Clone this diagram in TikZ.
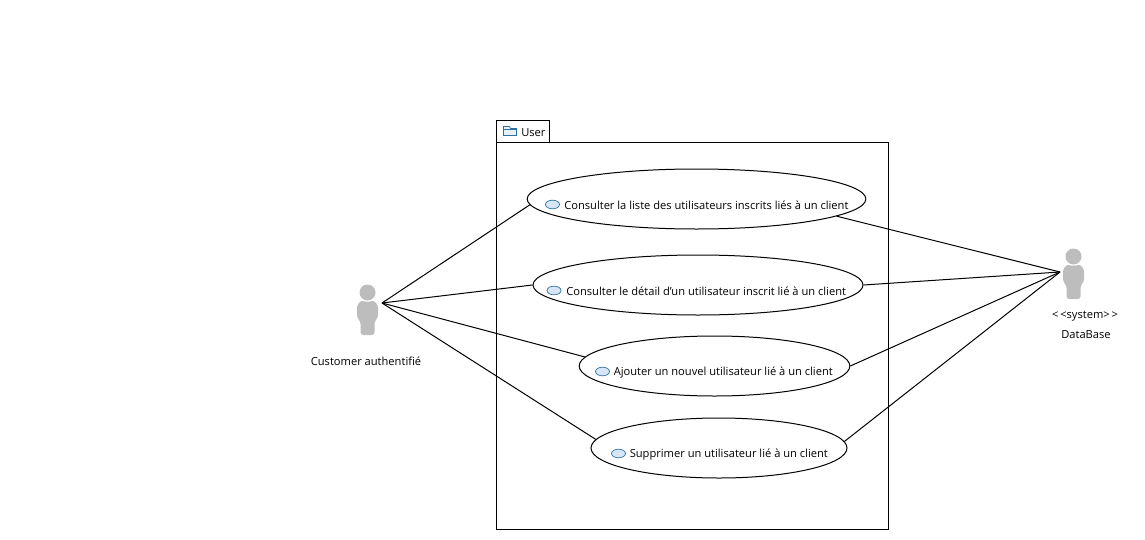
\documentclass[tikz,border=0pt]{standalone}
\usepackage{fontspec}
\setmainfont{Open Sans}
\usetikzlibrary{shapes.geometric}
\definecolor{actorgray}{HTML}{BDBDBD}
\definecolor{iconblue}{HTML}{D6E6F7}
\definecolor{iconline}{HTML}{2F6F9F}
\tikzset{
  every node/.style={font=\fontsize{8.35}{10}\selectfont, inner sep=0pt},
  usecase/.style={ellipse, draw, line width=0.75pt, minimum height=45pt},
  ucicon/.style={ellipse, draw=iconline, fill=iconblue, line width=0.5pt, minimum width=10.5pt, minimum height=6.5pt},
  assoc/.style={line width=0.75pt},
  actor/.pic={
    \fill[actorgray] (0,0) circle (8);
    \fill[actorgray, rounded corners=2pt] (-10.5,13) .. controls (-6,7) and (-4,9) .. (0,9)
      .. controls (4,9) and (6,7) .. (10.5,13) -- (10.5,25) -- (7,29) -- (7,42.5)
      -- (-7,42.5) -- (-7,29) -- (-10.5,25) -- cycle;
  }
}
\begin{document}
\begin{tikzpicture}[x=0.75pt, y=-0.75pt]
  \useasboundingbox (0,0) rectangle (1145,539);
  % package
  \draw[line width=0.75pt] (496.5,142.5) rectangle (888.5,529.5);
  \draw[line width=0.75pt] (496.5,142.5) -- (496.5,120.5) -- (549.5,120.5) -- (549.5,142.5);
  \draw[iconline, fill=iconblue!60, line width=0.5pt] (503.5,135.5) -- (503.5,126.5) -- (509.5,126.5) -- (510.5,128.5) -- (516.5,128.5) -- (516.5,135.5) -- cycle;
  \draw[iconline, line width=0.5pt] (503.5,129.5) -- (516.5,129.5);
  \node[anchor=west] (pkgname) at (521,132.5) {User};

  % use cases
  \node[usecase, minimum width=254pt] (consultList) at (696.5,199) {};
  \node[usecase, minimum width=247.5pt] (consultDetail) at (698,285) {};
  \node[usecase, minimum width=203pt] (addUser) at (714.5,366) {};
  \node[usecase, minimum width=192pt] (delUser) at (719,448) {};

  \node[ucicon] (iconList) at (552.5,204.5) {};
  \node[ucicon] (iconDetail) at (554,290.5) {};
  \node[ucicon] (iconAdd) at (602.5,371.5) {};
  \node[ucicon] (iconDel) at (618.5,453.5) {};
  \node[anchor=west] (txtList) at (564,205.5) {Consulter la liste des utilisateurs inscrits liés à un client};
  \node[anchor=west] (txtDetail) at (566,291.5) {Consulter le détail d'un utilisateur inscrit lié à un client};
  \node[anchor=west] (txtAdd) at (613.5,372.5) {Ajouter un nouvel utilisateur lié à un client};
  \node[anchor=west] (txtDel) at (629.5,454.5) {Supprimer un utilisateur lié à un client};

  % actors
  \pic at (367.5,292.5) {actor};
  \pic at (1073.5,256.5) {actor};
  \coordinate (customer) at (382,303);
  \coordinate (database) at (1060,272);
  \node (customerName) at (366,361.5) {Customer authentifié};
  \node (dbStereo) at (1085,316) {<\,<system>\,>};
  \node (dbName) at (1086,334.5) {DataBase};

  % associations
  \draw[assoc] (customer) -- (consultList.182.4);
  \draw[assoc] (customer) -- (consultDetail.west);
  \draw[assoc] (customer) -- (addUser.176.1);
  \draw[assoc] (customer) -- (delUser.176.8);
  \draw[assoc] (consultList.-7.2) -- (database);
  \draw[assoc] (consultDetail.east) -- (database);
  \draw[assoc] (addUser.0.85) -- (database);
  \draw[assoc] (delUser.3.2) -- (database);
\end{tikzpicture}
\end{document}
